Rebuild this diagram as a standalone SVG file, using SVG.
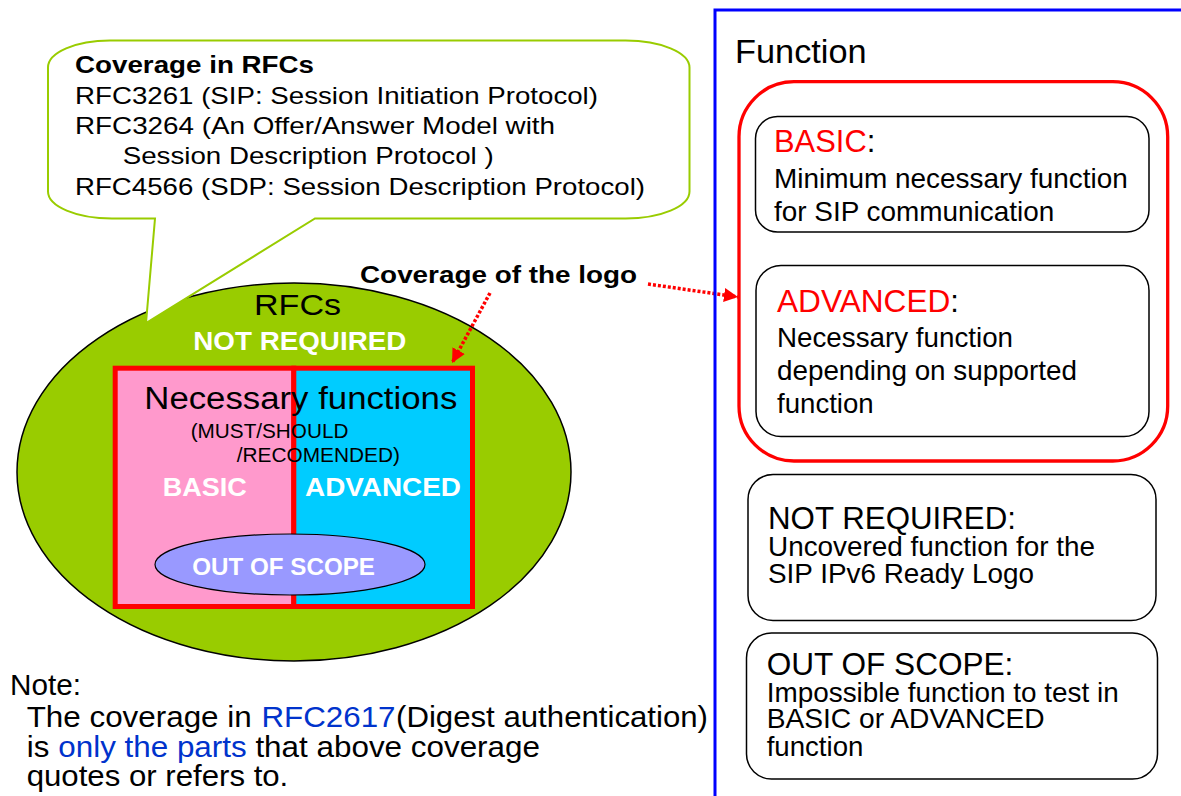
<svg xmlns="http://www.w3.org/2000/svg" width="1181" height="796" viewBox="0 0 1181 796">
<style>
text{font-family:"Liberation Sans",Arial,sans-serif;fill:#000}
.b{font-weight:bold}
.w{fill:#fff}
.r{fill:#ff0000}
.bl{fill:#0033cc}
.box{fill:#fff;stroke:#000;stroke-width:1.5}
.dot{fill:none;stroke:#ff0000;stroke-width:3.5;stroke-dasharray:3 2}
</style>
<defs>
<marker id="ah" markerUnits="userSpaceOnUse" markerWidth="16" markerHeight="16" refX="14" refY="7" orient="auto">
<path d="M0,0 L14,7 L0,14 Z" fill="#ff0000"/>
</marker>
</defs>
<rect width="1181" height="796" fill="#fff"/>

<g id="rfcs-ellipse">
<ellipse cx="294" cy="472" rx="277" ry="189" fill="#99cc00" stroke="#000" stroke-width="1.5"/>
</g>

<g id="callout">
<path d="M110,40.5 H625 A64 27 0 0 1 689.5,67.5 V191.5 A64 27 0 0 1 625,218.5 H315 L146,323 L155,218.5 H112 A64 27 0 0 1 48,191.5 V67.5 A62 27 0 0 1 110,40.5 Z" fill="#fff" stroke="#99cc00" stroke-width="2"/>
<text class="b" x="75" y="73.3" font-size="24" textLength="239" lengthAdjust="spacingAndGlyphs">Coverage in RFCs</text>
<text x="75" y="104" font-size="24.5" textLength="523" lengthAdjust="spacingAndGlyphs">RFC3261 (SIP: Session Initiation Protocol)</text>
<text x="75" y="134" font-size="24.5" textLength="480" lengthAdjust="spacingAndGlyphs">RFC3264 (An Offer/Answer Model with</text>
<text x="122.7" y="164.3" font-size="24.5" textLength="371" lengthAdjust="spacingAndGlyphs">Session Description Protocol )</text>
<text x="75" y="195" font-size="24.5" textLength="570" lengthAdjust="spacingAndGlyphs">RFC4566 (SDP: Session Description Protocol)</text>
</g>

<g id="rfcs-labels">
<text x="254" y="315" font-size="30" textLength="87" lengthAdjust="spacingAndGlyphs">RFCs</text>
<text class="b w" x="193.3" y="350" font-size="25.6" textLength="213" lengthAdjust="spacingAndGlyphs">NOT REQUIRED</text>
</g>

<g id="basic-area">
<rect x="115.2" y="368.2" width="178.6" height="238.3" fill="#ff99cc" stroke="#ff0000" stroke-width="5"/>
</g>
<g id="advanced-area">
<rect x="293.8" y="368.2" width="178.7" height="238.3" fill="#00ccff" stroke="#ff0000" stroke-width="5"/>
</g>

<g id="necessary-labels">
<text x="144.3" y="409.3" font-size="31" textLength="313" lengthAdjust="spacingAndGlyphs">Necessary functions</text>
<text x="190.7" y="438.3" font-size="20" textLength="157.7" lengthAdjust="spacingAndGlyphs">(MUST/SHOULD</text>
<text x="236.7" y="461.7" font-size="20" textLength="163.3" lengthAdjust="spacingAndGlyphs">/RECOMENDED)</text>
<text class="b w" x="162.7" y="495.7" font-size="25.6" textLength="84" lengthAdjust="spacingAndGlyphs">BASIC</text>
<text class="b w" x="305" y="495.7" font-size="25.6" textLength="156" lengthAdjust="spacingAndGlyphs">ADVANCED</text>
</g>

<g id="out-of-scope-ellipse">
<ellipse cx="290" cy="564.5" rx="135" ry="30.5" fill="#9999ff" stroke="#000" stroke-width="1.2"/>
<text class="b w" x="192.3" y="575" font-size="23" textLength="182.7" lengthAdjust="spacingAndGlyphs">OUT OF SCOPE</text>
</g>

<g id="logo-label">
<text class="b" x="360" y="283" font-size="23.5" textLength="277" lengthAdjust="spacingAndGlyphs">Coverage of the logo</text>
</g>

<g id="connectors">
<path class="dot" d="M490,293 L452,363" marker-end="url(#ah)"/>
<path class="dot" d="M648,284 L738,297" marker-end="url(#ah)"/>
</g>

<g id="function-panel">
<path d="M715,796 V10 H1181" fill="none" stroke="#0000ff" stroke-width="3"/>
<text x="735" y="63.3" font-size="33" textLength="131.7" lengthAdjust="spacingAndGlyphs">Function</text>
</g>

<g id="necessary-group">
<rect x="739" y="81.7" width="428.7" height="379.3" rx="55" ry="55" fill="none" stroke="#ff0000" stroke-width="3.3"/>
</g>

<g id="basic-box">
<rect class="box" x="755.5" y="116.5" width="393.5" height="115.5" rx="22" ry="22"/>
<text x="774" y="151.7" font-size="31"><tspan class="r" textLength="92.7" lengthAdjust="spacingAndGlyphs">BASIC</tspan>:</text>
<text x="774" y="187.7" font-size="28" textLength="353.7" lengthAdjust="spacingAndGlyphs">Minimum necessary function</text>
<text x="774" y="221" font-size="28" textLength="280.3" lengthAdjust="spacingAndGlyphs">for SIP communication</text>
</g>

<g id="advanced-box">
<rect class="box" x="756" y="265.5" width="393" height="171" rx="25" ry="25"/>
<text x="777" y="311.7" font-size="31"><tspan class="r" textLength="173.3" lengthAdjust="spacingAndGlyphs">ADVANCED</tspan>:</text>
<text x="777" y="346.7" font-size="28" textLength="236" lengthAdjust="spacingAndGlyphs">Necessary function</text>
<text x="777" y="380" font-size="28" textLength="300" lengthAdjust="spacingAndGlyphs">depending on supported</text>
<text x="777" y="413" font-size="28" textLength="96.7" lengthAdjust="spacingAndGlyphs">function</text>
</g>

<g id="not-required-box">
<rect class="box" x="748" y="474.5" width="408" height="146" rx="25" ry="25"/>
<text x="768" y="529.3" font-size="31" textLength="248" lengthAdjust="spacingAndGlyphs">NOT REQUIRED:</text>
<text x="768" y="556" font-size="28" textLength="327" lengthAdjust="spacingAndGlyphs">Uncovered function for the</text>
<text x="768" y="583.3" font-size="28" textLength="266" lengthAdjust="spacingAndGlyphs">SIP IPv6 Ready Logo</text>
</g>

<g id="out-of-scope-box">
<rect class="box" x="746.5" y="633" width="411" height="146" rx="25" ry="25"/>
<text x="766.7" y="675" font-size="31" textLength="246.7" lengthAdjust="spacingAndGlyphs">OUT OF SCOPE:</text>
<text x="766.7" y="701.7" font-size="28" textLength="352" lengthAdjust="spacingAndGlyphs">Impossible function to test in</text>
<text x="766.7" y="728.3" font-size="28" textLength="278" lengthAdjust="spacingAndGlyphs">BASIC or ADVANCED</text>
<text x="766.7" y="755.7" font-size="28" textLength="96.7" lengthAdjust="spacingAndGlyphs">function</text>
</g>

<g id="note">
<text x="10" y="695" font-size="29" textLength="71" lengthAdjust="spacingAndGlyphs">Note:</text>
<text x="26.7" y="727.3" font-size="29" textLength="225" lengthAdjust="spacingAndGlyphs">The coverage in</text>
<text class="bl" x="261.5" y="727.3" font-size="29" textLength="134" lengthAdjust="spacingAndGlyphs">RFC2617</text>
<text x="396" y="727.3" font-size="29" textLength="312" lengthAdjust="spacingAndGlyphs">(Digest authentication)</text>
<text x="26.7" y="756.7" font-size="29" textLength="22.6" lengthAdjust="spacingAndGlyphs">is</text>
<text class="bl" x="58.3" y="756.7" font-size="29" textLength="188.4" lengthAdjust="spacingAndGlyphs">only the parts</text>
<text x="255.4" y="756.7" font-size="29" textLength="284.6" lengthAdjust="spacingAndGlyphs">that above coverage</text>
<text x="26.7" y="785.7" font-size="29" textLength="261.6" lengthAdjust="spacingAndGlyphs">quotes or refers to.</text>
</g>
</svg>
